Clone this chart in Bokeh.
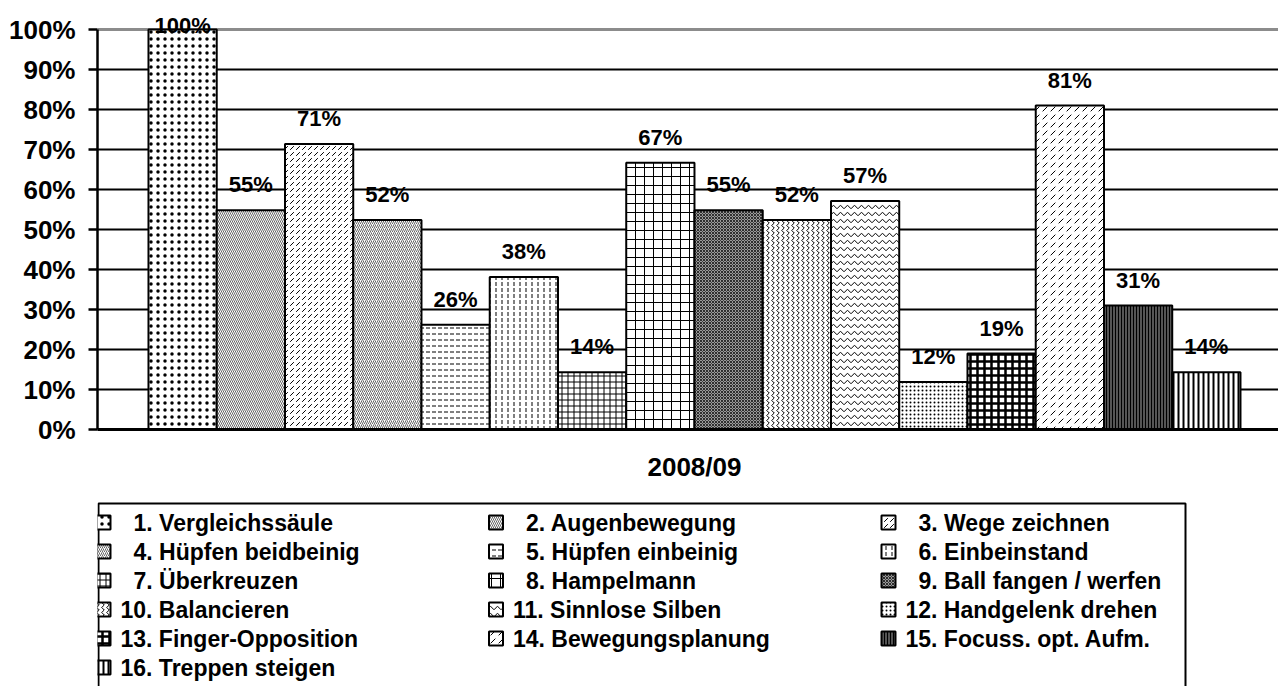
from bokeh.plotting import figure
from bokeh.models import ColumnDataSource, LabelSet, Span, FixedTicker, NumeralTickFormatter, Range1d
from bokeh.layouts import column
from bokeh.embed import file_html
from bokeh.resources import INLINE
from bokeh.core.properties import value

# ---------------- data ----------------
names = ["1. Vergleichssäule", "2. Augenbewegung", "3. Wege zeichnen",
         "4. Hüpfen beidbeinig", "5. Hüpfen einbeinig", "6. Einbeinstand",
         "7. Überkreuzen", "8. Hampelmann", "9. Ball fangen / werfen",
         "10. Balancieren", "11. Sinnlose Silben", "12. Handgelenk drehen",
         "13. Finger-Opposition", "14. Bewegungsplanung", "15. Focuss. opt. Aufm.",
         "16. Treppen steigen"]
values = [1.00, 0.548, 0.714, 0.524, 0.262, 0.381, 0.143, 0.667,
          0.548, 0.524, 0.571, 0.119, 0.190, 0.810, 0.310, 0.143]
category = "2008/09"
y_ticks = [0.0, 0.1, 0.2, 0.3, 0.4, 0.5, 0.6, 0.7, 0.8, 0.9, 1.0]

# ---------------- styles ----------------
patterns = [".", "\\", ",", "/", '"', ":", "+", "+", "x", ">", "v", ".", "+", ",", "|", "|"]
hscales  = [7, 4, 6, 4, 6, 6, 6, 9, 3, 5, 7, 4, 7, 8, 3, 5]
hweights = [0.3, 0.6, 1, 0.6, 1, 1, 1, 1, 0.7, 1, 1, 0.4, 2.5, 1, 1, 2]
fills    = ["white", "white", "white", "white", "white", "white", "white", "white",
            "#9a9a9a", "white", "white", "white", "white", "white", "#555555", "white"]

FONT = "Liberation Sans"

n = len(values)
xs = list(range(1, n + 1))
labels = ["{:.0f}%".format(v * 100) for v in values]
label_off = [18 if v < 0.95 else -3 for v in values]

src = ColumnDataSource(dict(x=xs, top=values, pat=patterns, scale=hscales,
                            weight=hweights, fill=fills, lab=labels, off=label_off))

# ---------------- main chart ----------------
p = figure(width=1278, height=492, x_range=Range1d(-0.247, 17.057), y_range=Range1d(0, 1.05),
           output_backend="svg", toolbar_location=None,
           min_border_left=97, min_border_top=9, min_border_right=0, min_border_bottom=63)
p.outline_line_color = None
p.xgrid.visible = False
p.ygrid.ticker = FixedTicker(ticks=y_ticks[1:-1])
p.ygrid.grid_line_color = "black"
p.ygrid.grid_line_width = 2

top_line = Span(location=y_ticks[-1], dimension="width", line_color="#8c8c8c", line_width=3)
top_line.level = "underlay"
p.add_layout(top_line)

p.vbar(x="x", top="top", bottom=0, width=1, source=src, fill_color="fill",
       line_color="black", line_width=2, hatch_pattern="pat", hatch_scale="scale",
       hatch_weight="weight", hatch_color="black")

p.add_layout(LabelSet(x="x", y="top", text="lab", y_offset="off", source=src,
                      text_align="center", text_baseline="alphabetic",
                      text_font=value(FONT), text_font_style="bold",
                      text_font_size="22px", text_color="black"))

ya = p.yaxis[0]
ya.ticker = FixedTicker(ticks=y_ticks)
ya.bounds = (y_ticks[0], y_ticks[-1])
ya.formatter = NumeralTickFormatter(format="0%")
ya.major_label_text_font = FONT
ya.major_label_text_font_style = "bold"
ya.major_label_text_font_size = "26px"
ya.major_label_text_color = "black"
ya.axis_line_width = 2.5
ya.axis_line_color = "black"
ya.major_tick_line_width = 2.5
ya.major_tick_out = 9
ya.major_tick_in = 0
ya.minor_tick_line_color = None
ya.major_label_standoff = 13

center = (xs[0] + xs[-1]) / 2
xa = p.xaxis[0]
xa.ticker = FixedTicker(ticks=[center])
xa.major_label_overrides = {center: category}
xa.major_label_text_font = FONT
xa.major_label_text_font_style = "bold"
xa.major_label_text_font_size = "26px"
xa.major_label_text_color = "black"
xa.axis_line_width = 3
xa.axis_line_color = "black"
xa.major_tick_out = 0
xa.major_tick_in = 0
xa.minor_tick_line_color = None
xa.major_label_standoff = 22

# ---------------- legend ----------------
q = figure(width=1278, height=194, x_range=Range1d(97, 1278), y_range=Range1d(686, 492),
           output_backend="svg", toolbar_location=None, min_border=0,
           x_axis_location=None, y_axis_location=None)
q.grid.visible = False
q.outline_line_color = None

q.quad(left=[98], right=[1185], top=[503], bottom=[800], fill_color=None,
       line_color="black", line_width=2)

sx, sy, tx = [], [], []
for i, nm in enumerate(names):
    r, c = divmod(i, 3)
    x0 = 95 + c * 392.5
    sx.append(x0 + 8)
    sy.append(522 + r * 29)
    single = len(nm.split(".")[0]) == 1
    tx.append(x0 + 25 + (13 if single else 0))

lsrc = ColumnDataSource(dict(sx=sx, sy=sy, tx=tx, name=names, pat=patterns,
                             scale=hscales, weight=hweights, fill=fills))
q.rect(x="sx", y="sy", width=14, height=14, source=lsrc, fill_color="fill",
       line_color="black", line_width=2, hatch_pattern="pat", hatch_scale="scale",
       hatch_weight="weight", hatch_color="black")
q.text(x="tx", y="sy", text="name", source=lsrc, text_baseline="middle",
       text_align="left", text_font=value(FONT), text_font_style="bold",
       text_font_size="23px", text_color="black")

layout = column(p, q, spacing=0)
open("out.html", "w").write(file_html(layout, INLINE))
